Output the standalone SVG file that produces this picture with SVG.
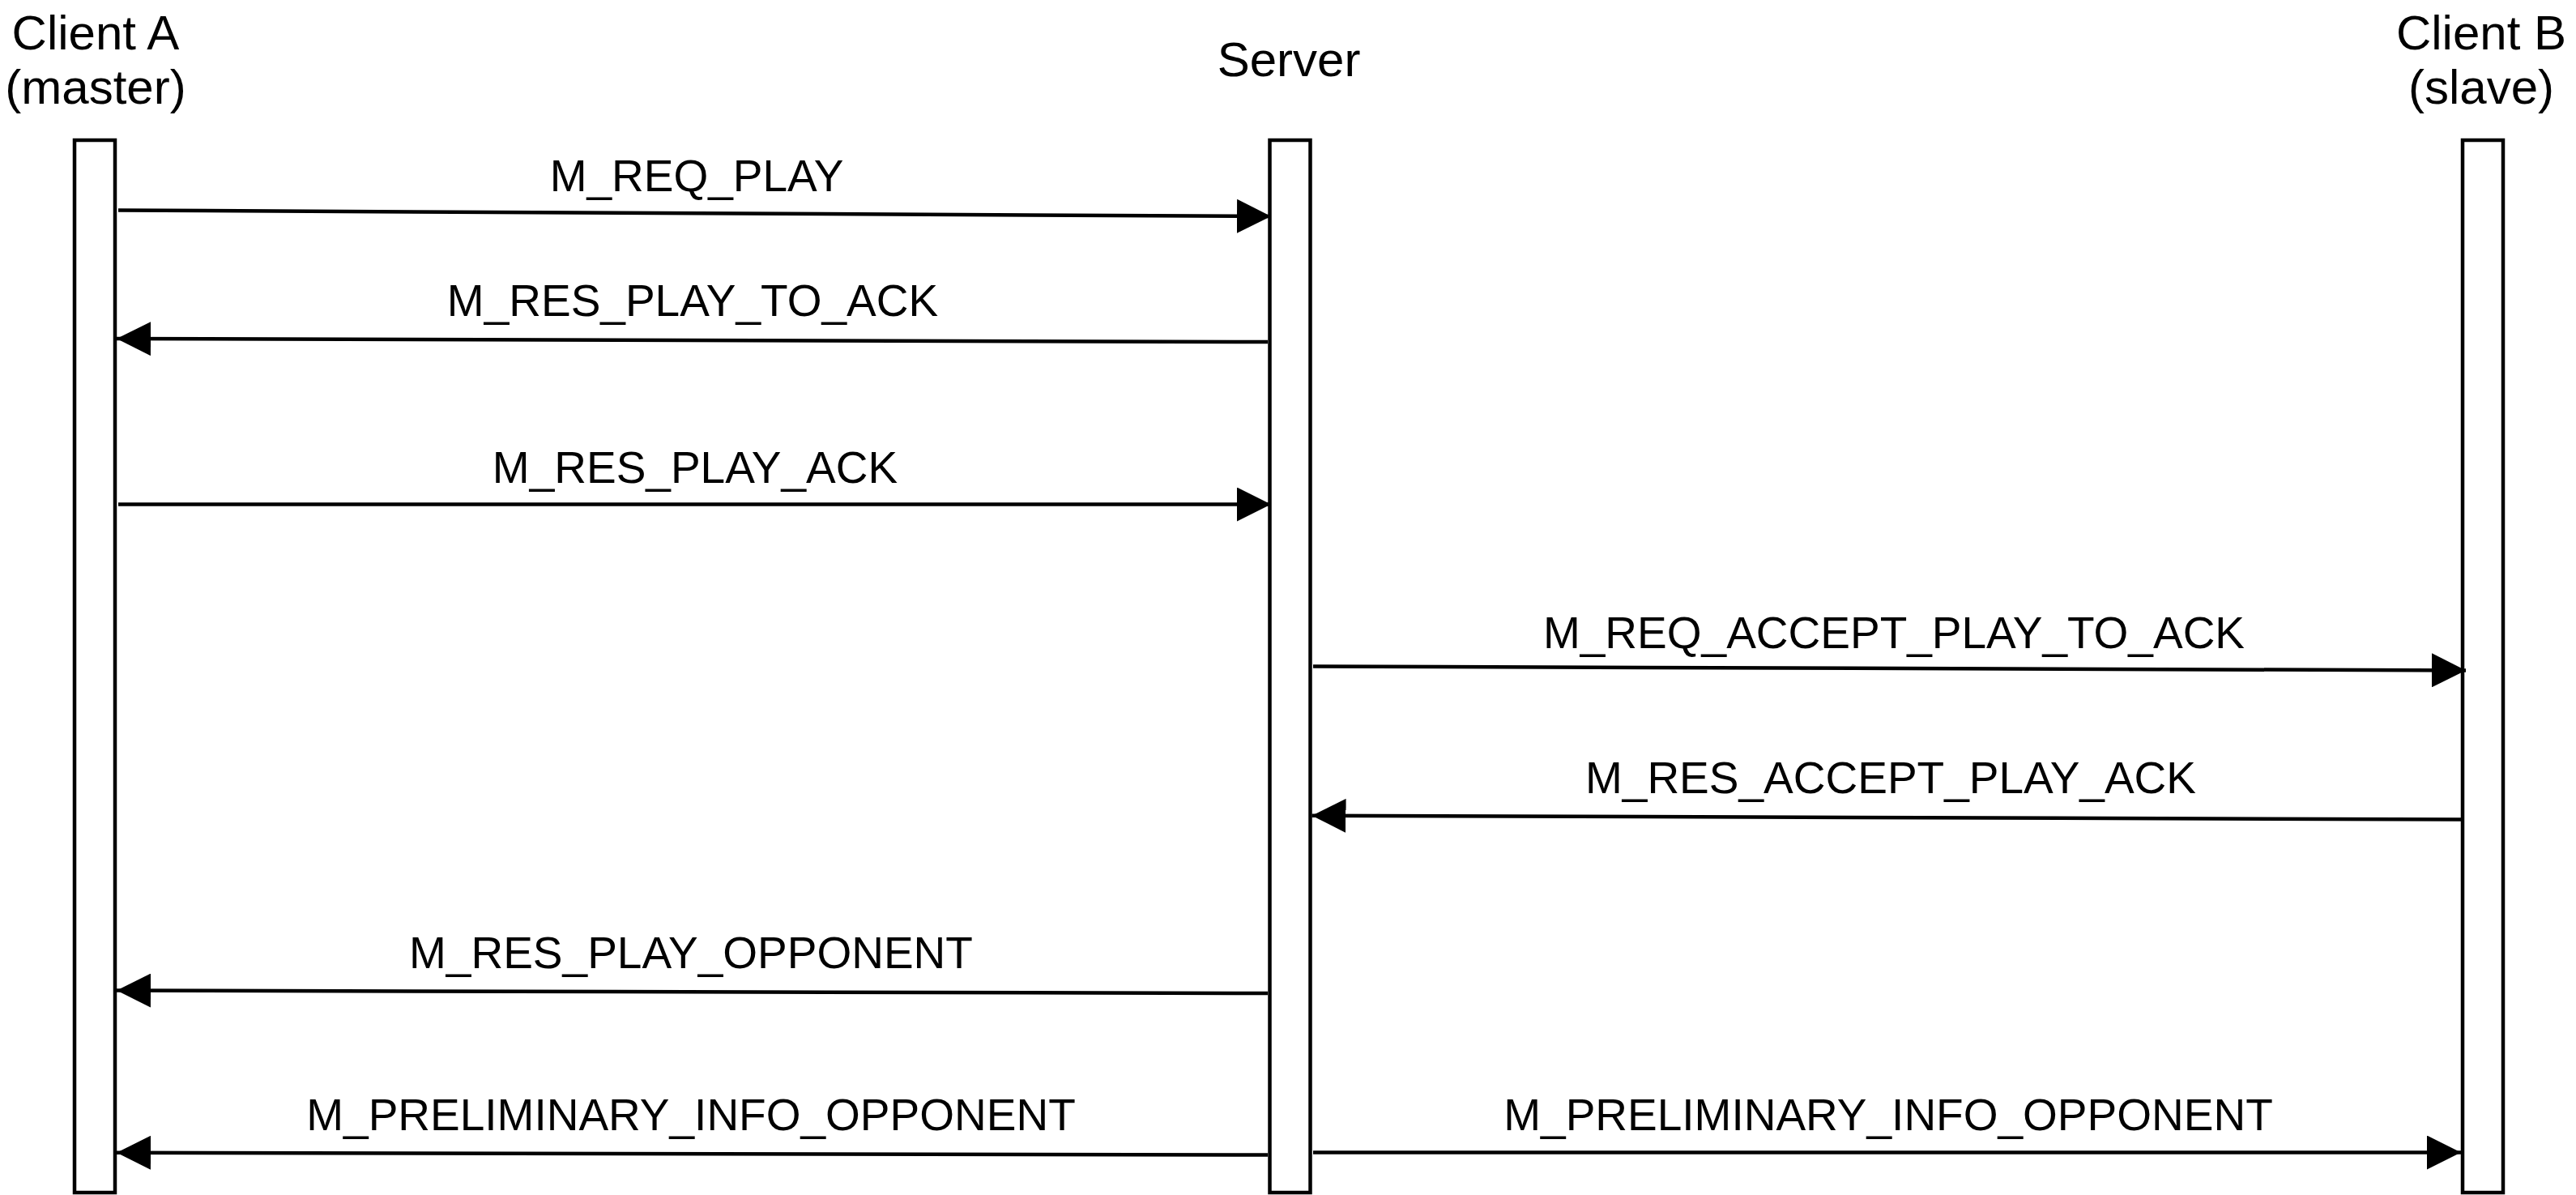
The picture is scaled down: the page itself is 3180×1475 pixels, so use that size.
<svg xmlns="http://www.w3.org/2000/svg" width="3180" height="1475" viewBox="0 0 3180 1475">
  <style>
    .life { fill: #ffffff; stroke: #000000; stroke-width: 4.5; }
    .hdr { font-family: "Liberation Sans", Arial, Helvetica, sans-serif; font-size: 60px; fill: #000000; text-anchor: middle; }
    .lbl { font-family: "Liberation Sans", Arial, Helvetica, sans-serif; font-size: 55px; fill: #000000; text-anchor: middle; }
    .msg { fill: none; stroke: #000000; stroke-width: 4.5; marker-end: url(#arrow); }
  </style>
  <defs>
    <marker id="arrow" markerUnits="userSpaceOnUse" viewBox="0 0 42 42" markerWidth="42" markerHeight="42" refX="42" refY="21" orient="auto">
      <path d="M0,0 L42,21 L0,42 Z" fill="#000000"/>
    </marker>
  </defs>
  <rect width="3180" height="1475" fill="#ffffff"/>

  <g id="client-a">
    <rect class="life" x="92" y="173" width="50" height="1299"/>
    <text class="hdr" x="118" y="61">Client A</text>
    <text class="hdr" x="118" y="128">(master)</text>
  </g>
  <g id="server">
    <rect class="life" x="1567.5" y="173" width="50" height="1299"/>
    <text class="hdr" x="1591" y="94">Server</text>
  </g>
  <g id="client-b">
    <rect class="life" x="3040" y="173" width="50" height="1299"/>
    <text class="hdr" x="3063" y="61">Client B</text>
    <text class="hdr" x="3063" y="128">(slave)</text>
  </g>

  <g id="connectors">
    <g id="m1">
      <line class="msg" x1="146" y1="259.5" x2="1569" y2="267"/>
      <text class="lbl" x="860" y="236">M_REQ_PLAY</text>
    </g>
    <g id="m2">
      <line class="msg" x1="1565" y1="422" x2="144" y2="418"/>
      <text class="lbl" x="855" y="390">M_RES_PLAY_TO_ACK</text>
    </g>
    <g id="m3">
      <line class="msg" x1="146" y1="622.5" x2="1569" y2="622.5"/>
      <text class="lbl" x="858" y="596">M_RES_PLAY_ACK</text>
    </g>
    <g id="m4">
      <line class="msg" x1="1621" y1="822.5" x2="3044" y2="827.5"/>
      <text class="lbl" x="2338" y="800">M_REQ_ACCEPT_PLAY_TO_ACK</text>
    </g>
    <g id="m5">
      <line class="msg" x1="3038" y1="1011.5" x2="1619.5" y2="1006.7"/>
      <text class="lbl" x="2334" y="979">M_RES_ACCEPT_PLAY_ACK</text>
    </g>
    <g id="m6">
      <line class="msg" x1="1565" y1="1226" x2="144" y2="1222.5"/>
      <text class="lbl" x="853" y="1195">M_RES_PLAY_OPPONENT</text>
    </g>
    <g id="m7">
      <line class="msg" x1="1565" y1="1425.5" x2="144" y2="1422.7"/>
      <text class="lbl" x="853" y="1395">M_PRELIMINARY_INFO_OPPONENT</text>
    </g>
    <g id="m8">
      <line class="msg" x1="1621" y1="1422.5" x2="3038" y2="1422.5"/>
      <text class="lbl" x="2331" y="1395">M_PRELIMINARY_INFO_OPPONENT</text>
    </g>
  </g>
</svg>
